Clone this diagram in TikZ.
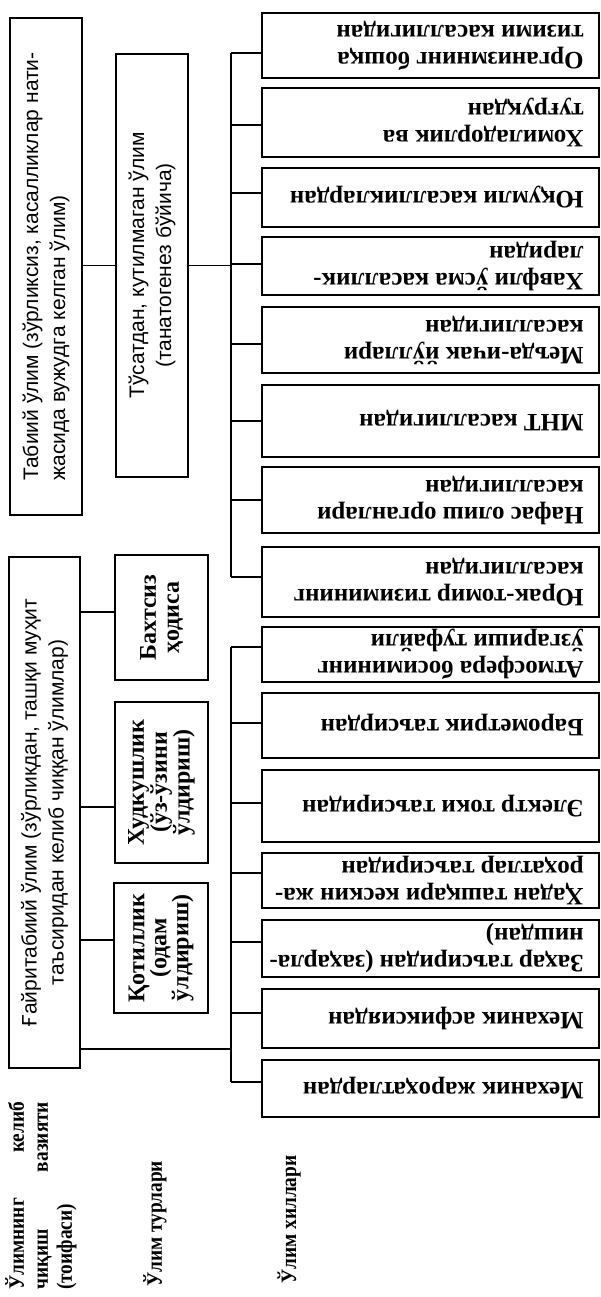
\documentclass[tikz,border=0pt]{standalone}
\usepackage{fontspec}
\setmainfont{Liberation Serif}
\newfontfamily\narrowserif[FakeStretch=0.88]{Liberation Serif}
\newfontfamily\plainsans{Liberation Sans}
\tikzset{
  box/.style = {draw, line width = 1.7pt, inner sep = 0pt},
  link/.style = {line width = 1.3pt},
  serifbf/.style = {font = \bfseries\fontsize{25}{27}\selectfont},
  typebf/.style = {font = \bfseries\fontsize{24}{#1}\selectfont},
  labelbf/.style = {font = \narrowserif\bfseries\fontsize{22}{24}\selectfont},
  sanstext/.style = {font = \plainsans\fontsize{21}{27}\selectfont},
  upright/.style = {rotate = 90, inner sep = 0pt},
  kind/.style = {rotate = 180, anchor = west, align = left, inner sep = 0pt, serifbf},
}
\begin{document}
\begin{tikzpicture}[x = 1pt, y = -1pt]
  \useasboundingbox (0, 0) rectangle (601, 1297);
  \node [box, minimum width = 72, minimum height = 497] (tabiiy) at (46, 266.5) {};
  \node [upright, sanstext, align = left] at (tabiiy) {Табиий ўлим (зўрликсиз, касалликлар нати-\\жасида вужудга келган ўлим)};
  \node [box, minimum width = 71, minimum height = 511] (gayri) at (44.5, 812.5) {};
  \node [upright, sanstext, align = center] at (gayri) {Ғайритабиий ўлим (зўрликдан, ташқи муҳит\\таъсиридан келиб чиққан ўлимлар)};
  \node [box, minimum width = 72, minimum height = 423] (tusat) at (152, 265.5) {};
  \node [upright, sanstext, align = center] at (tusat) {Тўсатдан, кутилмаган ўлим\\(танатогенез бўйича)};
  \node [box, minimum width = 93, minimum height = 125] (bakht) at (161.5, 617.5) {};
  \node [upright, typebf = 23, align = center] at (bakht) {Бахтсиз\\ҳодиса};
  \node [box, minimum width = 93, minimum height = 161] (hudkush) at (161.5, 782.5) {};
  \node [upright, typebf = 21.5, align = center] at (hudkush) {Худкушлик\\(ўз-ўзини\\ўлдириш)};
  \node [box, minimum width = 94, minimum height = 130] (kotil) at (161, 948) {};
  \node [upright, typebf = 22, align = center] at (kotil) {Қотиллик\\(одам\\ўлдириш)};
  \foreach \n/\y/\h/\d/\t in {
      1/45.5/65/-7.5/{Организмнинг бошқа\\тизими касаллигидан},
      2/122.5/69/-2.5/{Хомиладорлик ва\\туғруқдан},
      3/197.5/59/4.5/{Юқумли касалликлардан},
      4/266/58/2/{Хавфли ўсма касаллик-\\ларидан},
      5/340/66/-4/{Меъда-ичак йўллари\\касаллигидан},
      6/421/72/0/{МНТ касаллигидан},
      7/500/66/0/{Нафас олиш органлари\\касаллигидан},
      8/582/70/5/{Юрак-томир тизимининг\\касаллигидан},
      9/654.5/55/7.5/{Атмосфера босимининг\\ўзгариши туфайли},
      10/725.5/65/2.5/{Барометрик таъсирдан},
      11/806/72/3/{Электр токи таъсиридан},
      12/880.5/55/7.5/{Ҳадан ташқари кескин жа-\\роҳатлар таъсиридан},
      13/948.5/57/6.5/{Заҳар таъсиридан (заҳарла-\\нишдан)},
      14/1018.5/59/5.5/{Механик асфиксиядан},
      15/1088.5/57/6.5/{Механик жароҳатлардан}} {
    \node [box, minimum width = 337, minimum height = \h] (r\n) at (430.5, \y) {};
    \node [kind] at ([xshift = -16pt] r\n.east) {\t};
    \coordinate (in\n) at ([yshift = \d pt] r\n.west);
  }
  \coordinate (bus) at (231, 0);
  \coordinate (gjoin) at ([yshift = 20pt] gayri.south east);
  \coordinate (inbakht) at ([yshift = 5.5pt] bakht.west);
  \coordinate (inhudkush) at ([yshift = -24.5pt] hudkush.west);
  \coordinate (inkotil) at ([yshift = 8pt] kotil.west);
  \draw [link] (tabiiy.east |- tusat.west) -- (tusat.west);
  \draw [link] (tusat.east) -- (bus |- tusat.east);
  \draw [link] (bus |- in1) -- (bus |- in8);
  \draw [link] (bus |- in9) -- (bus |- in15);
  \foreach \n in {1, ..., 15}
    \draw [link] (bus |- in\n) -- (in\n);
  \draw [link] (gayri.east |- inbakht) -- (inbakht);
  \draw [link] (gayri.east |- inhudkush) -- (inhudkush);
  \draw [link] (gayri.east |- inkotil) -- (inkotil);
  \draw [link] (gjoin) -- (bus |- gjoin);
  \node [upright, labelbf, anchor = north west, text width = 188pt, align = left] (vaziyat) at (5, 1290) {Ўлимнинг\hfill келиб\\чиқиш\hfill вазияти\\(тоифаси)};
  \node [upright, labelbf, anchor = west] (turlari) at (155, 1287) {Ўлим турлари};
  \node [upright, labelbf, anchor = west] (hillari) at (289, 1284) {Ўлим хиллари};
\end{tikzpicture}
\end{document}
